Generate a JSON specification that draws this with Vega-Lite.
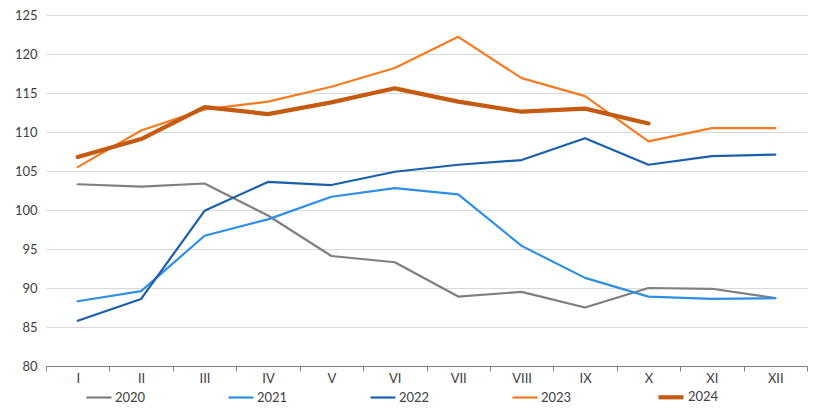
{
  "$schema": "https://vega.github.io/schema/vega-lite/v6.json",
  "width": 820,
  "height": 419,
  "autosize": {"type": "fit", "contains": "padding"},
  "padding": {"left": 14, "top": 9, "right": 12, "bottom": 34},
  "config": {
    "view": {"stroke": null},
    "font": "Lato",
    "axis": {"labelFont": "Lato", "labelFontSize": 13, "labelColor": "#404040"},
    "legend": {"labelFont": "Lato", "labelFontSize": 13, "labelColor": "#404040"}
  },
  "data": {
    "values": [
      {"m": "I", "year": "2020", "v": 103.3}, {"m": "II", "year": "2020", "v": 103.0}, {"m": "III", "year": "2020", "v": 103.4}, {"m": "IV", "year": "2020", "v": 99.3}, {"m": "V", "year": "2020", "v": 94.1}, {"m": "VI", "year": "2020", "v": 93.3}, {"m": "VII", "year": "2020", "v": 88.9}, {"m": "VIII", "year": "2020", "v": 89.5}, {"m": "IX", "year": "2020", "v": 87.5}, {"m": "X", "year": "2020", "v": 90.0}, {"m": "XI", "year": "2020", "v": 89.9}, {"m": "XII", "year": "2020", "v": 88.7},
      {"m": "I", "year": "2021", "v": 88.3}, {"m": "II", "year": "2021", "v": 89.6}, {"m": "III", "year": "2021", "v": 96.7}, {"m": "IV", "year": "2021", "v": 98.8}, {"m": "V", "year": "2021", "v": 101.7}, {"m": "VI", "year": "2021", "v": 102.8}, {"m": "VII", "year": "2021", "v": 102.0}, {"m": "VIII", "year": "2021", "v": 95.4}, {"m": "IX", "year": "2021", "v": 91.3}, {"m": "X", "year": "2021", "v": 88.9}, {"m": "XI", "year": "2021", "v": 88.6}, {"m": "XII", "year": "2021", "v": 88.7},
      {"m": "I", "year": "2022", "v": 85.8}, {"m": "II", "year": "2022", "v": 88.6}, {"m": "III", "year": "2022", "v": 99.9}, {"m": "IV", "year": "2022", "v": 103.6}, {"m": "V", "year": "2022", "v": 103.2}, {"m": "VI", "year": "2022", "v": 104.9}, {"m": "VII", "year": "2022", "v": 105.8}, {"m": "VIII", "year": "2022", "v": 106.4}, {"m": "IX", "year": "2022", "v": 109.2}, {"m": "X", "year": "2022", "v": 105.8}, {"m": "XI", "year": "2022", "v": 106.9}, {"m": "XII", "year": "2022", "v": 107.1},
      {"m": "I", "year": "2023", "v": 105.5}, {"m": "II", "year": "2023", "v": 110.2}, {"m": "III", "year": "2023", "v": 112.9}, {"m": "IV", "year": "2023", "v": 113.9}, {"m": "V", "year": "2023", "v": 115.8}, {"m": "VI", "year": "2023", "v": 118.2}, {"m": "VII", "year": "2023", "v": 122.2}, {"m": "VIII", "year": "2023", "v": 116.9}, {"m": "IX", "year": "2023", "v": 114.6}, {"m": "X", "year": "2023", "v": 108.8}, {"m": "XI", "year": "2023", "v": 110.5}, {"m": "XII", "year": "2023", "v": 110.5},
      {"m": "I", "year": "2024", "v": 106.8}, {"m": "II", "year": "2024", "v": 109.1}, {"m": "III", "year": "2024", "v": 113.2}, {"m": "IV", "year": "2024", "v": 112.3}, {"m": "V", "year": "2024", "v": 113.8}, {"m": "VI", "year": "2024", "v": 115.6}, {"m": "VII", "year": "2024", "v": 113.9}, {"m": "VIII", "year": "2024", "v": 112.6}, {"m": "IX", "year": "2024", "v": 113.0}, {"m": "X", "year": "2024", "v": 111.1}
    ]
  },
  "mark": {"type": "line", "strokeJoin": "round", "strokeCap": "round"},
  "encoding": {
    "x": {
      "field": "m", "type": "nominal", "sort": ["I","II","III","IV","V","VI","VII","VIII","IX","X","XI","XII"],
      "scale": {"paddingInner": 0, "paddingOuter": 0},
      "axis": {"title": null, "labelAngle": 0, "tickBand": "extent", "grid": false, "domainColor": "#7f7f7f", "tickColor": "#7f7f7f", "tickSize": 5, "labelPadding": 1}
    },
    "y": {
      "field": "v", "type": "quantitative",
      "scale": {"domain": [80, 125], "zero": false},
      "axis": {"title": null, "values": [80,85,90,95,100,105,110,115,120,125], "domain": false, "ticks": false, "labelPadding": 9, "gridColor": "#d9d9d9", "gridWidth": 1}
    },
    "color": {
      "field": "year", "type": "ordinal",
      "scale": {"domain": ["2020","2021","2022","2023","2024"], "range": ["#7f7f7f","#2e8fe6","#1a5fab","#f47b20","#c55a11"]},
      "legend": {"title": null, "orient": "none", "legendX": 39, "legendY": 367, "direction": "horizontal", "symbolType": "stroke", "symbolSize": 625, "columnPadding": 78, "labelOffset": 2}
    },
    "strokeWidth": {
      "field": "year", "type": "ordinal",
      "scale": {"type": "ordinal", "domain": ["2020","2021","2022","2023","2024"], "range": [2.2,2.2,2.2,2.2,4.2]},
      "legend": {"title": null, "orient": "none", "legendX": 39, "legendY": 367, "direction": "horizontal", "symbolType": "stroke", "symbolSize": 625, "columnPadding": 78, "labelOffset": 2}
    },
    "order": {"field": "year"}
  }
}
